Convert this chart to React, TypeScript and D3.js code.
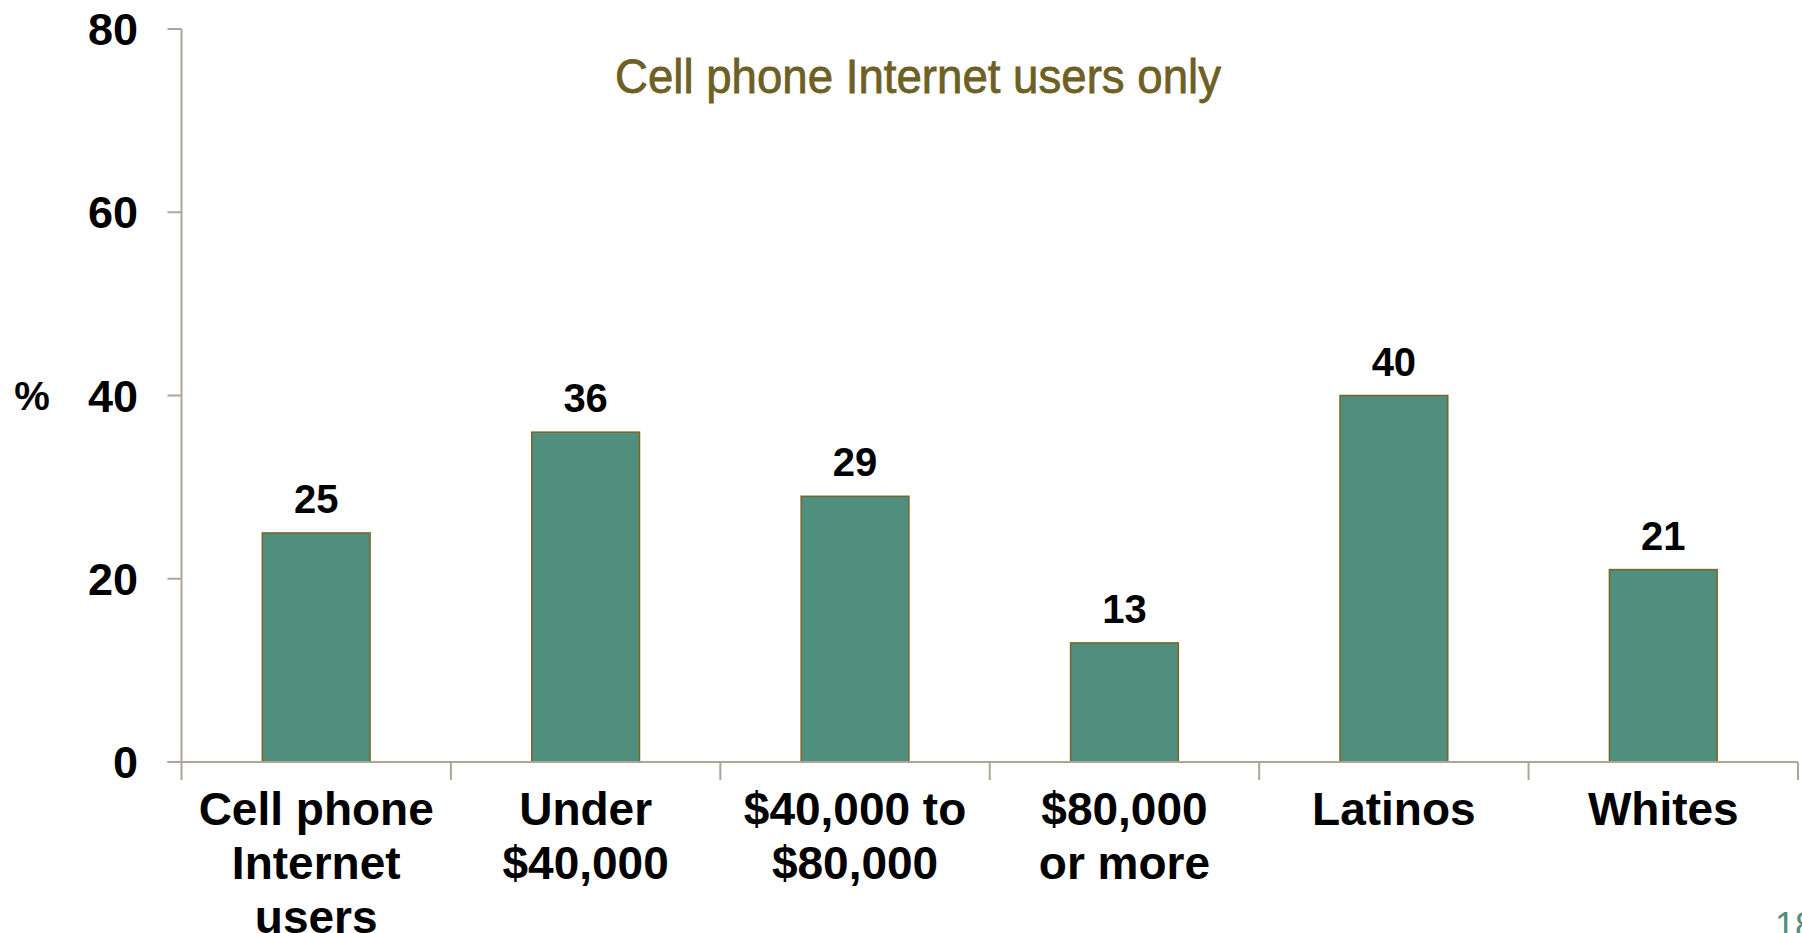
import React from "react";
import * as d3 from "d3";

const categories: string[][] = [
  ["Cell phone", "Internet", "users"],
  ["Under", "$40,000"],
  ["$40,000 to", "$80,000"],
  ["$80,000", "or more"],
  ["Latinos"],
  ["Whites"],
];
const values: number[] = [25, 36, 29, 13, 40, 21];
const yTicks: number[] = [0, 20, 40, 60, 80];
const title = "Cell phone Internet users only";
const pageNumber = "18";

const W = 1802;
const H = 933;
const left = 181.5;
const right = 1798;
const top = 29;
const bottom = 762;

const BAR = "#508F7E";
const BAR_STROKE = "#7A6528";
const AXIS = "#ADA595";
const TITLE = "#6E5F24";
const FONT = "'Liberation Sans', Arial, Helvetica, sans-serif";

export default function App() {
  const idx = categories.map((_, i) => String(i));
  const x = d3.scaleBand<string>().domain(idx).range([left, right]).paddingInner(0.6).paddingOuter(0.3);
  const xb = d3.scaleBand<string>().domain(idx).range([left, right]);
  const y = d3.scaleLinear().domain([0, 80]).range([bottom, top]);

  return (
    <svg width={W} height={H} style={{ position: "absolute", left: 0, top: 0, background: "#fff" }}>
      {/* title */}
      <text x={918} y={93} textAnchor="middle" fill={TITLE} stroke={TITLE} strokeWidth={0.8} fontSize={49}
        fontFamily="'Liberation Sans Narrow', 'Arial Narrow', 'Liberation Sans', Arial, sans-serif"
        textLength={606} lengthAdjust="spacingAndGlyphs">{title}</text>

      {/* bars */}
      {values.map((v, i) => (
        <rect key={i} x={x(String(i))!} y={y(v)} width={x.bandwidth()} height={y(0) - y(v)}
          fill={BAR} stroke={BAR_STROKE} strokeWidth={1.5} />
      ))}

      {/* y axis */}
      <line x1={left} x2={left} y1={y(80)} y2={y(0)} stroke={AXIS} strokeWidth={2} />
      {yTicks.map((t) => (
        <g key={t}>
          <line x1={left - 14} x2={left} y1={y(t)} y2={y(t)} stroke={AXIS} strokeWidth={2} />
          <text x={138} y={y(t)} dy="0.36em" textAnchor="end" fontSize={45} fontWeight="bold" fontFamily={FONT} fill="#000">{t}</text>
        </g>
      ))}
      <text x={32} y={y(40)} dy="0.36em" textAnchor="middle" fontSize={40} fontWeight="bold" fontFamily={FONT} fill="#000">%</text>

      {/* x axis */}
      <line x1={left - 14} x2={right} y1={y(0)} y2={y(0)} stroke={AXIS} strokeWidth={2} />
      {idx.concat(["end"]).map((k, i) => {
        const px = i < idx.length ? xb(k)! : right;
        return <line key={k} x1={px} x2={px} y1={y(0)} y2={y(0) + 18} stroke={AXIS} strokeWidth={2} />;
      })}

      {/* value labels */}
      {values.map((v, i) => (
        <text key={i} x={x(String(i))! + x.bandwidth() / 2} y={y(v) - 20} textAnchor="middle"
          fontSize={40} fontWeight="bold" fontFamily={FONT} fill="#000">{v}</text>
      ))}

      {/* category labels */}
      {categories.map((lines, i) => (
        <text key={i} textAnchor="middle" fontSize={46} fontWeight="bold" fontFamily={FONT} fill="#000">
          {lines.map((ln, j) => (
            <tspan key={j} x={xb(String(i))! + xb.bandwidth() / 2} y={825 + j * 54}>{ln}</tspan>
          ))}
        </text>
      ))}

      <text x={1775} y={938} fontSize={36} fontFamily={FONT} fill={BAR}>{pageNumber}</text>
    </svg>
  );
}
